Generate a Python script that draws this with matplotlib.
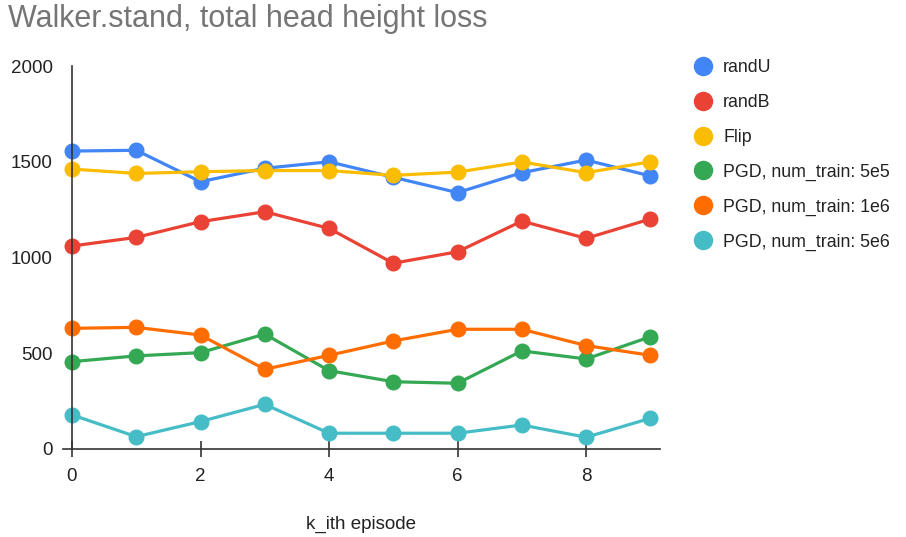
import matplotlib
matplotlib.use("Agg")
import matplotlib.pyplot as plt
from matplotlib.lines import Line2D

plt.rcParams['font.family'] = ['Liberation Sans', 'DejaVu Sans']

# Data
episodes = list(range(10))
series_names = ["randU", "randB", "Flip",
                "PGD, num_train: 5e5", "PGD, num_train: 1e6", "PGD, num_train: 5e6"]
rand_u = [1556, 1560, 1396, 1466, 1500, 1419, 1339, 1443, 1509, 1426]
rand_b = [1060, 1105, 1187, 1239, 1152, 970, 1030, 1190, 1100, 1201]
flip = [1462, 1439, 1448, 1454, 1454, 1429, 1446, 1499, 1443, 1500]
pgd_5e5 = [456, 486, 503, 600, 409, 351, 343, 512, 470, 586]
pgd_1e6 = [630, 635, 595, 416, 489, 564, 625, 625, 540, 489]
pgd_5e6 = [178, 64, 143, 233, 82, 82, 82, 125, 61, 160]
colors = ["#4285F4", "#EA4335", "#FBBC04", "#34A853", "#FF6D01", "#46BDC6"]
x_ticks = [0, 2, 4, 6, 8]
y_ticks = [0, 500, 1000, 1500, 2000]

fig = plt.figure(figsize=(9.06, 5.37), dpi=100)
ax = fig.add_axes([0.0695, 0.164, 0.659, 0.713])

all_series = [rand_u, rand_b, flip, pgd_5e5, pgd_1e6, pgd_5e6]
for vals, c in zip(all_series, colors):
    ax.plot(episodes, vals, color=c, lw=2.3, marker='o', ms=10.5, clip_on=False)

ax.set_xlim(-0.14, 9.15)
ax.set_ylim(0, 2000)
ax.set_xticks(x_ticks)
ax.set_yticks(y_ticks)

for s in ['top', 'right']:
    ax.spines[s].set_visible(False)
ax.spines['left'].set_position(('data', 0))
ax.spines['left'].set_color('#333333')
ax.spines['bottom'].set_color('#333333')
ax.spines['left'].set_linewidth(1.2)
ax.spines['bottom'].set_linewidth(1.2)
ax.tick_params(axis='y', length=0, pad=14, labelsize=13.5, labelcolor='#222222')
ax.tick_params(axis='x', direction='inout', length=12, width=1.2, color='#333333',
               pad=8, labelsize=13.5, labelcolor='#222222')
for lab in ax.get_yticklabels():
    lab.set_horizontalalignment('right')

ax.set_xlabel("k_ith episode", fontsize=13.5, color='#222222', labelpad=22)

fig.text(0.009, 0.949, "Walker.stand, total head height loss", fontsize=22,
         color='#757575', va='baseline', ha='left')

handles = [Line2D([], [], ls='none', marker='o', ms=13, color=c) for c in colors]
fig.legend(handles, series_names, loc='upper left', bbox_to_anchor=(0.749, 0.903),
           frameon=False, fontsize=12.8, labelspacing=1.0, handletextpad=0.1,
           borderaxespad=0, labelcolor='#222222')

fig.savefig("out.png", dpi=100)
